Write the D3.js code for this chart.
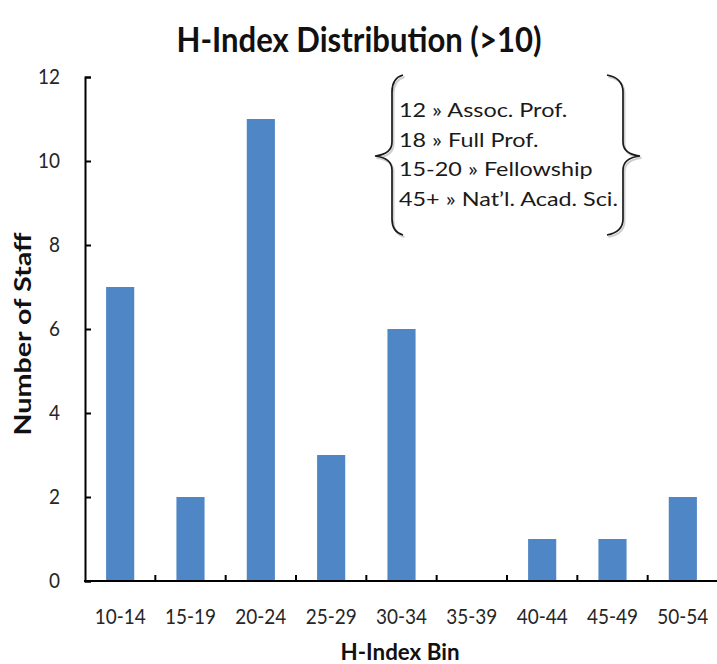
<!DOCTYPE html>
<html>
<head>
<meta charset="utf-8">
<script src="https://cdn.jsdelivr.net/npm/d3@7/dist/d3.min.js"></script>
<style>
  html, body { margin: 0; padding: 0; background: #fff; }
  svg { display: block; }
  text { font-family: Lato, "Open Sans", sans-serif; }
</style>
</head>
<body>
<svg id="chart" width="717" height="664"></svg>
<script>
// H-index bins and the number of staff in each bin
const bins = ["10-14", "15-19", "20-24", "25-29", "30-34", "35-39", "40-44", "45-49", "50-54"];
const staffCounts = [7, 2, 11, 3, 6, 0, 1, 1, 2];
const yTickValues = [0, 2, 4, 6, 8, 10, 12];
const noteLines = [
  "12 \u00bb Assoc. Prof.",
  "18 \u00bb Full Prof.",
  "15-20 \u00bb Fellowship",
  "45+ \u00bb Nat\u2019l. Acad. Sci."
];

const svg = d3.select("#chart");
const plot = { left: 85, right: 718, top: 77, bottom: 581 };

// Horizontal fitting so the lettering keeps a Calibri-like width
function scaleText(sel, factor) {
  sel.each(function () {
    const w = this.getComputedTextLength();
    if (w > 0) d3.select(this).attr("textLength", w * factor).attr("lengthAdjust", "spacingAndGlyphs");
  });
}
function widthFactor(sample, size, weight, target) {
  const t = svg.append("text").attr("font-size", size).attr("font-weight", weight).text(sample);
  const w = t.node().getComputedTextLength();
  t.remove();
  return target / w;
}

const x = d3.scaleBand().domain(bins).range([plot.left, plot.right]).padding(0);
const y = d3.scaleLinear().domain([0, 12]).range([plot.bottom, plot.top]);

// Title
const title = svg.append("text")
  .attr("x", 359).attr("y", 52)
  .attr("text-anchor", "middle")
  .attr("font-size", 35).attr("font-weight", 700).attr("fill", "#111")
  .text("H-Index Distribution (>10)");
scaleText(title, widthFactor(title.text(), 35, 700, 365));

// Bars
const barW = x.bandwidth() * 0.4;
svg.append("g").selectAll("rect")
  .data(bins.map((b, i) => ({ bin: b, count: staffCounts[i] })))
  .join("rect")
  .attr("x", d => x(d.bin) + x.bandwidth() / 2 - barW / 2)
  .attr("y", d => y(d.count))
  .attr("width", barW)
  .attr("height", d => y(0) - y(d.count))
  .attr("fill", "#4f86c6");

// Y axis with inward ticks
const yAxis = svg.append("g")
  .attr("transform", `translate(${plot.left},0)`)
  .call(d3.axisLeft(y).tickValues(yTickValues).tickSize(-6).tickPadding(25).tickFormat(d3.format("d")));
yAxis.select(".domain").attr("stroke", "#000").attr("stroke-width", 2);
yAxis.selectAll(".tick line").attr("stroke", "#000").attr("stroke-width", 2);
yAxis.selectAll(".tick text")
  .attr("font-size", 21).attr("fill", "#262626")
  .attr("font-family", "Lato, sans-serif")
  .call(scaleText, widthFactor("12", 21, 400, 22));

// X axis: labels centred in each bin
const xAxis = svg.append("g")
  .attr("transform", `translate(0,${plot.bottom})`)
  .call(d3.axisBottom(x).tickSize(0).tickPadding(28));
xAxis.select(".domain").remove();
xAxis.selectAll(".tick text")
  .attr("font-size", 21).attr("fill", "#262626")
  .attr("font-family", "Lato, sans-serif")
  .call(scaleText, widthFactor("40-44", 21, 400, 51));

// X axis line and bin boundary ticks
svg.append("line")
  .attr("x1", plot.left - 1).attr("x2", plot.right)
  .attr("y1", y(0)).attr("y2", y(0))
  .attr("stroke", "#000").attr("stroke-width", 2);
svg.append("g").selectAll("line")
  .data(bins.slice(1))
  .join("line")
  .attr("x1", d => x(d)).attr("x2", d => x(d))
  .attr("y1", y(0)).attr("y2", y(0) - 6)
  .attr("stroke", "#000").attr("stroke-width", 2);

// Axis titles
const xTitle = svg.append("text")
  .attr("x", 400).attr("y", 660)
  .attr("text-anchor", "middle")
  .attr("font-size", 22).attr("font-weight", 700).attr("fill", "#111")
  .text("H-Index Bin");
scaleText(xTitle, widthFactor(xTitle.text(), 22, 700, 119));

const yTitle = svg.append("text")
  .attr("transform", `translate(31,334) rotate(-90)`)
  .attr("text-anchor", "middle")
  .attr("font-size", 23).attr("font-weight", 700).attr("fill", "#111")
  .text("Number of Staff");
scaleText(yTitle, widthFactor(yTitle.text(), 23, 700, 203));

// Note block framed by braces
const note = svg.append("g");
const braceL = "M403,75 Q392,78 392,92 L392,142 Q392,154 375,156 Q392,158 392,170 L392,219 Q392,232 403,235";
const braceR = "M607,75 Q623,78 623,92 L623,142 Q623,154 640,156 Q623,158 623,170 L623,219 Q623,232 607,235";
[braceL, braceR].forEach(p => {
  note.append("path").attr("d", p).attr("fill", "none")
    .attr("stroke", "#cfcfcf").attr("stroke-width", 2)
    .attr("transform", "translate(1.5,2)");
  note.append("path").attr("d", p).attr("fill", "none")
    .attr("stroke", "#1a1a1a").attr("stroke-width", 1.7);
});
note.selectAll("text.note")
  .data(noteLines)
  .join("text")
  .attr("class", "note")
  .attr("x", 399)
  .attr("y", (d, i) => 117 + i * 29.7)
  .attr("font-size", 19).attr("fill", "#1a1a1a")
  .text(d => d)
  .call(scaleText, widthFactor(noteLines[3], 19, 400, 219));
</script>
</body>
</html>
